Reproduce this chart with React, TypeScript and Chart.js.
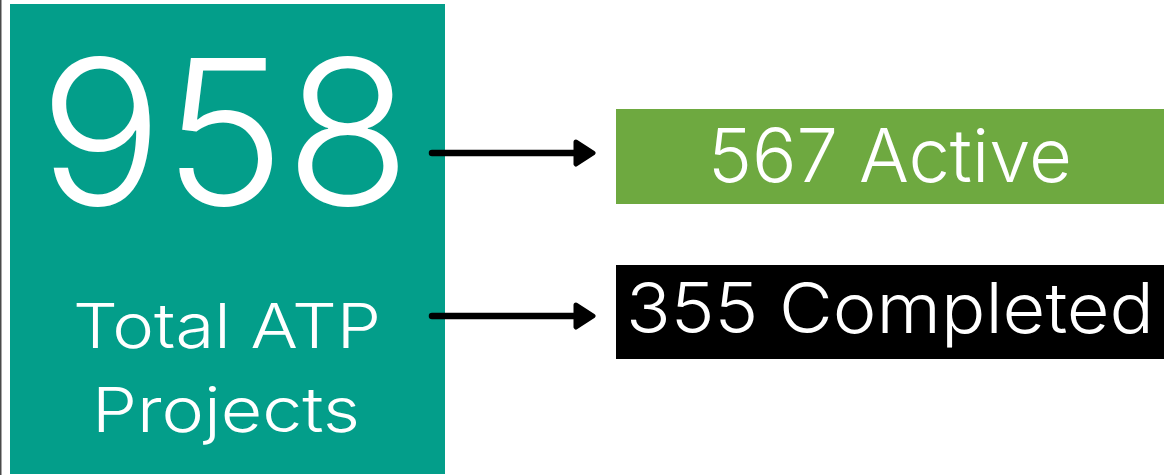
import React, { useEffect, useRef } from "react";
import { Chart, registerables } from "chart.js";

Chart.register(...registerables);

const totalValue = 958;
const totalLabelLines = ["Total ATP", "Projects"];
const categories = ["Active", "Completed"];
const values = [567, 355];

const TEAL = "#039E8A";
const BOX_COLORS = ["#6EA940", "#000000"];
const FONT = "Inter, 'Open Sans', sans-serif";

function fitText(
  ctx: CanvasRenderingContext2D,
  text: string,
  cx: number,
  baseline: number,
  targetWidth: number
) {
  const w = ctx.measureText(text).width;
  const sx = w > 0 ? targetWidth / w : 1;
  ctx.save();
  ctx.translate(cx, baseline);
  ctx.scale(sx, 1);
  ctx.textAlign = "center";
  ctx.fillText(text, 0, 0);
  ctx.restore();
}

const infographicPlugin = {
  id: "infographic",
  afterDraw(chart: any) {
    const ctx = chart.ctx as CanvasRenderingContext2D;
    const labels = chart.data.labels as string[];
    const vals = chart.data.datasets[0].data as number[];
    ctx.save();

    ctx.fillStyle = "#4a4a4a";
    ctx.fillRect(0, 0, 1.5, chart.height);

    ctx.fillStyle = TEAL;
    ctx.fillRect(10, 4, 435, 470);

    ctx.fillStyle = "#ffffff";
    ctx.textBaseline = "alphabetic";
    ctx.font = `300 202px ${FONT}`;
    fitText(ctx, String(totalValue), 225, 205, 372);

    ctx.font = `300 62px ${FONT}`;
    fitText(ctx, totalLabelLines[0], 227, 348, 308);
    fitText(ctx, totalLabelLines[1], 226, 432, 268);

    const boxes = [
      { y: 109, h: 95, base: 182, size: 74, w: 364 },
      { y: 265, h: 94, base: 333, size: 70, w: 528 },
    ];
    const arrowY = [153, 316];

    labels.forEach((lab, i) => {
      const b = boxes[i];
      ctx.fillStyle = BOX_COLORS[i];
      ctx.fillRect(616, b.y, 548, b.h);
      ctx.fillStyle = "#ffffff";
      ctx.font = `300 ${b.size}px ${FONT}`;
      fitText(ctx, `${vals[i]} ${lab}`, 890, b.base, b.w);

      const y = arrowY[i];
      ctx.strokeStyle = "#000000";
      ctx.fillStyle = "#000000";
      ctx.lineWidth = 6.5;
      ctx.lineCap = "round";
      ctx.lineJoin = "round";
      ctx.beginPath();
      ctx.moveTo(432, y);
      ctx.lineTo(578, y);
      ctx.stroke();
      ctx.lineWidth = 5;
      ctx.beginPath();
      ctx.moveTo(576, y - 11);
      ctx.lineTo(593, y);
      ctx.lineTo(576, y + 11);
      ctx.closePath();
      ctx.fill();
      ctx.stroke();
    });

    ctx.restore();
  },
};

export default function App() {
  const ref = useRef<HTMLCanvasElement | null>(null);
  useEffect(() => {
    document.body.style.margin = "0";
    const canvas = ref.current!;
    const chart = new Chart(canvas, {
      type: "bar",
      data: {
        labels: categories,
        datasets: [
          {
            label: "Projects",
            data: values,
            backgroundColor: "rgba(0,0,0,0)",
            borderWidth: 0,
          },
        ],
      },
      options: {
        responsive: false,
        animation: false,
        devicePixelRatio: 1,
        layout: { padding: 0 },
        plugins: { legend: { display: false }, tooltip: { enabled: false } },
        scales: { x: { display: false }, y: { display: false } },
      },
      plugins: [infographicPlugin],
    });
    return () => chart.destroy();
  }, []);
  return (
    <div style={{ width: 1166, height: 475, background: "#ffffff" }}>
      <canvas ref={ref} width={1166} height={475} />
    </div>
  );
}
